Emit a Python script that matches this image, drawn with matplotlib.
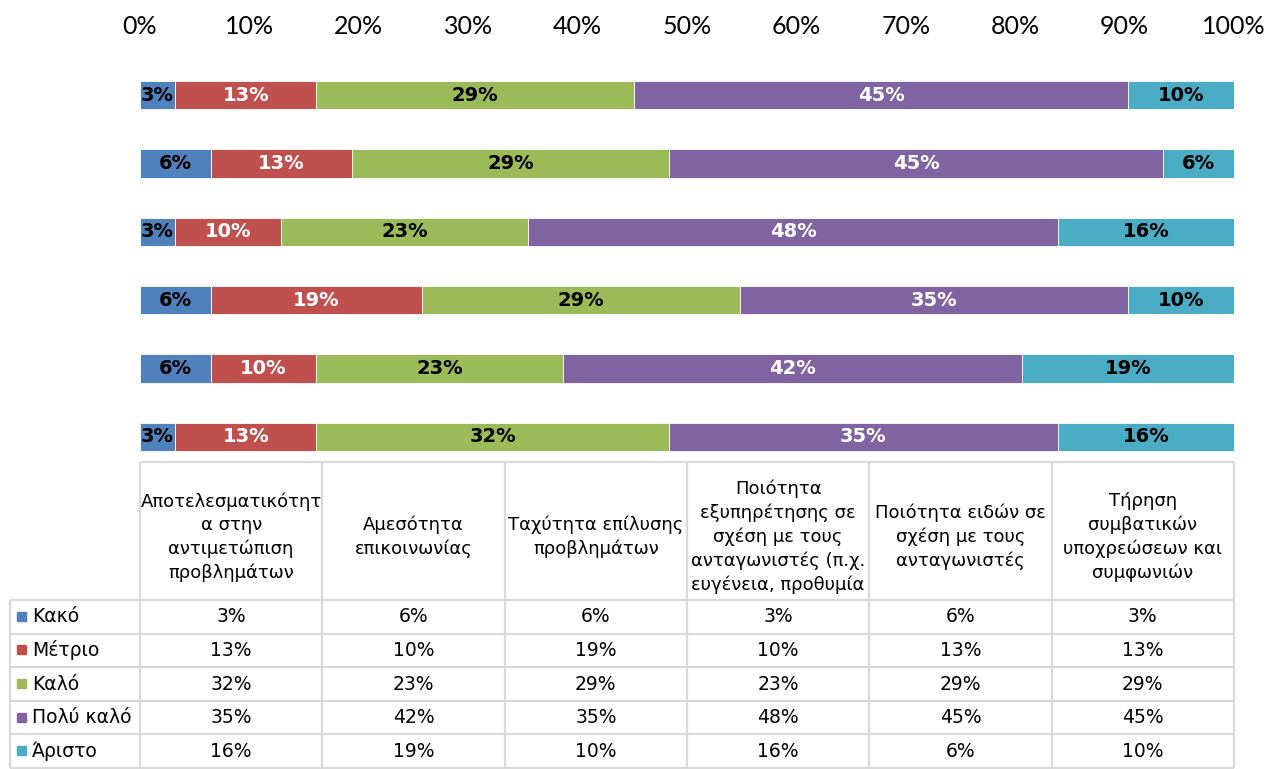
import matplotlib.pyplot as plt
import numpy as np

# =====================
# DATA
# =====================
categories = [
    "Αποτελεσματικότητ\nα στην\nαντιμετώπιση\nπροβλημάτων",
    "Αμεσότητα\nεπικοινωνίας",
    "Ταχύτητα επίλυσης\nπροβλημάτων",
    "Ποιότητα\nεξυπηρέτησης σε\nσχέση με τους\nανταγωνιστές (π.χ.\nευγένεια, προθυμία",
    "Ποιότητα ειδών σε\nσχέση με τους\nανταγωνιστές",
    "Τήρηση\nσυμβατικών\nυποχρεώσεων και\nσυμφωνιών",
]
ratings = ["Κακό", "Μέτριο", "Καλό", "Πολύ καλό", "Άριστο"]

kako = [3.23, 6.45, 6.45, 3.23, 6.45, 3.23]
metrio = [12.90, 9.68, 19.35, 9.68, 12.90, 12.90]
kalo = [32.26, 22.58, 29.03, 22.58, 29.03, 29.03]
poly_kalo = [35.48, 41.94, 35.48, 48.39, 45.16, 45.16]
aristo = [16.13, 19.35, 9.68, 16.13, 6.45, 9.68]

series = [kako, metrio, kalo, poly_kalo, aristo]
colors = ["#4F81BD", "#C0504D", "#9BBB59", "#8064A2", "#4BACC6"]
label_colors = ["black", "white", "black", "white", "black"]

W, H = 1268, 769
fig = plt.figure(figsize=(W / 100, H / 100), dpi=100)

# =====================
# BARS
# =====================
ax = fig.add_axes([140 / W, 1 - 471 / H, 1094 / W, 410 / H])
ax.patch.set_alpha(0)
y = np.arange(len(categories))
left = np.zeros(len(categories))
for vals, col, lcol in zip(series, colors, label_colors):
    bars = ax.barh(y, vals, left=left, height=0.41, color=col, edgecolor='white', linewidth=0.6)
    ax.bar_label(bars, labels=[f"{round(v)}%" for v in vals], label_type='center',
                 color=lcol, fontweight='bold', fontsize=14, family='DejaVu Sans')
    left += np.array(vals)

ax.set_xlim(0, 100)
ax.set_ylim(-0.5, 5.5)
ax.xaxis.tick_top()
ax.set_xticks(range(0, 101, 10))
ax.set_xticklabels([f"{t}%" for t in range(0, 101, 10)], family='Lato', fontsize=18)
ax.tick_params(axis='x', length=0, pad=16.5)
ax.set_yticks([])
for s in ax.spines.values():
    s.set_visible(False)

# =====================
# DATA TABLE
# =====================
tb = fig.add_axes([0, 0, 1, 1])
tb.set_xlim(0, W)
tb.set_ylim(H, 0)
tb.axis('off')
tb.patch.set_alpha(0)

x0, x1 = 140, 1234
colw = (x1 - x0) / len(categories)
head_top, head_bot = 462, 600
row_h = 33.6
line_kw = dict(color='#D9D9D9', linewidth=1.6, solid_capstyle='butt')
row_lines = [head_bot + i * row_h for i in range(len(ratings) + 1)]

tb.plot([x0, x1], [head_top, head_top], **line_kw)
for yy in row_lines:
    tb.plot([10, x1], [yy, yy], **line_kw)
tb.plot([10, 10], [head_bot, row_lines[-1]], **line_kw)
for i in range(len(categories) + 1):
    xx = x0 + i * colw
    tb.plot([xx, xx], [head_top, row_lines[-1]], **line_kw)

for i, cat in enumerate(categories):
    tb.text(x0 + (i + 0.5) * colw, (head_top + head_bot) / 2 + 6, cat, ha='center', va='center',
            fontsize=13, linespacing=1.38, family='DejaVu Sans')

for r, (name, vals, col) in enumerate(zip(ratings, series, colors)):
    yc = head_bot + (r + 0.5) * row_h
    tb.add_patch(plt.Rectangle((17, yc - 5), 9, 9, color=col))
    tb.text(32, yc, name, ha='left', va='center', fontsize=13.5, family='DejaVu Sans')
    for i, v in enumerate(vals):
        tb.text(x0 + (i + 0.5) * colw, yc, f"{round(v)}%", ha='center', va='center',
                fontsize=13.5, family='DejaVu Sans')

plt.savefig("out.png", dpi=100)
